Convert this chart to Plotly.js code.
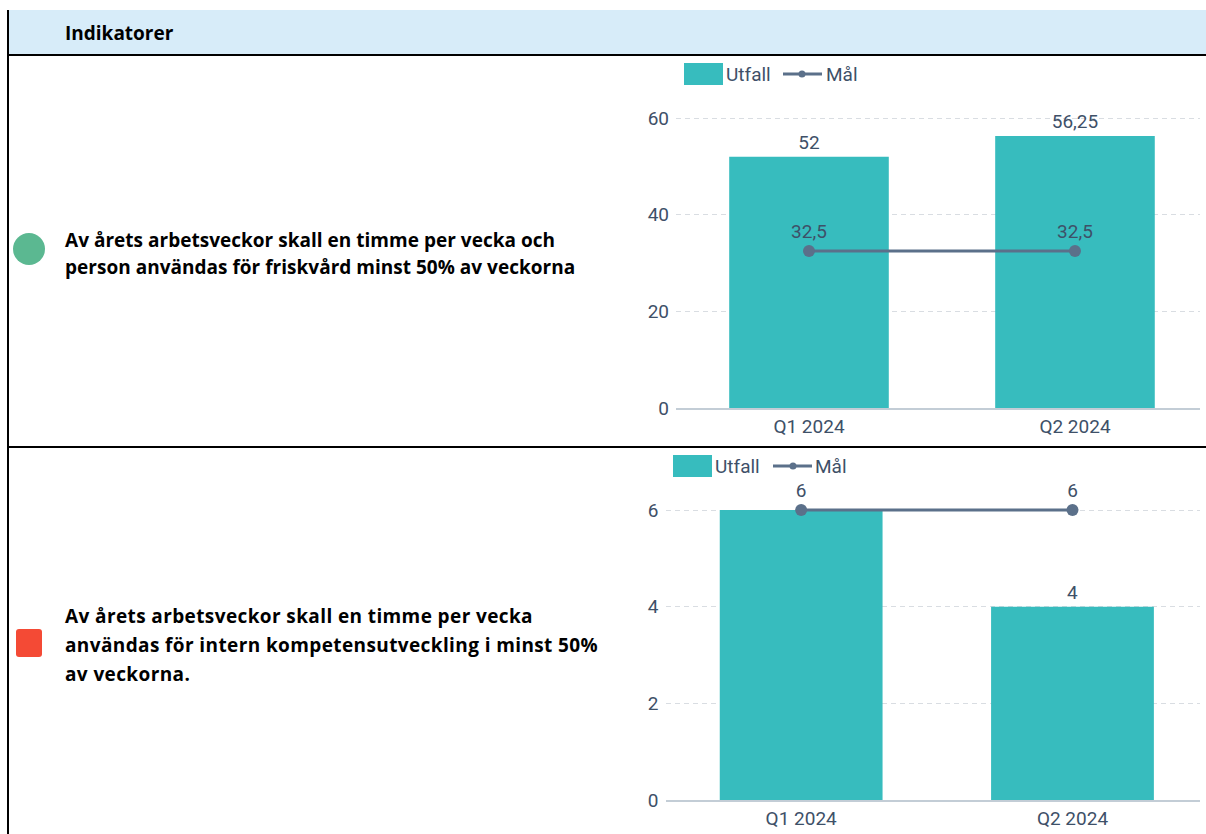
<!DOCTYPE html>
<html>
<head>
<meta charset="utf-8">
<script src="https://cdn.plot.ly/plotly-3.0.1.min.js"></script>
<style>
  body { margin: 0; background: #fff; }
  #page { position: relative; width: 1206px; height: 834px; overflow: hidden; }
  #plot { position: absolute; left: 0; top: 0; width: 1206px; height: 834px; }
  .box { position: absolute; }
  .txt { position: absolute; font-family: "Open Sans", Lato, sans-serif; font-weight: 700; color: #000; white-space: nowrap; }
</style>
</head>
<body>
<div id="page">
  <div class="box" style="left:8px;top:10px;width:1198px;height:45px;background:#D7ECF9;"></div>
  <div class="box" style="left:7px;top:10px;width:2px;height:824px;background:#000;"></div>
  <div class="box" style="left:7px;top:54px;width:1199px;height:2px;background:#000;"></div>
  <div class="box" style="left:7px;top:446px;width:1199px;height:2px;background:#000;"></div>
  <div class="txt" style="left:65px;top:21px;font-size:19px;line-height:24px;">Indikatorer</div>

  <div class="box" style="left:13px;top:233px;width:32px;height:32px;border-radius:50%;background:#5BB891;"></div>
  <div class="txt fit" data-w="510" style="left:65px;top:227px;font-size:19px;line-height:27px;">Av årets arbetsveckor skall en timme per vecka och<br>person användas för friskvård minst 50% av veckorna</div>

  <div class="box" style="left:16px;top:629px;width:26px;height:28px;border-radius:3px;background:#F44A35;"></div>
  <div class="txt fit" data-w="533" style="left:65px;top:602px;font-size:19px;line-height:29px;">Av årets arbetsveckor skall en timme per vecka<br>användas för intern kompetensutveckling i minst 50%<br>av veckorna.</div>

  <div id="plot"></div>
</div>
<script>
// data
var categories = ["Q1 2024", "Q2 2024"];
var utfall1 = [52, 56.25];
var mal1 = [32.5, 32.5];
var utfall2 = [6, 4];
var mal2 = [6, 6];
var yTicks1 = [0, 20, 40, 60];
var yTicks2 = [0, 2, 4, 6];

// stretch the indicator text a little so the lines are as wide as in the original
document.querySelectorAll(".fit").forEach(function (el) {
    var target = +el.dataset.w;
    var w = el.getBoundingClientRect().width;
    var longest = 0;
    el.innerHTML.split("<br>").forEach(function (s) { longest = Math.max(longest, s.length); });
    if (w < target) el.style.letterSpacing = ((target - w) / longest).toFixed(2) + "px";
});

var W = 1206, H = 834;
function px(x) { return x / W; }
function py(y) { return 1 - y / H; }
function fmt(v) { return String(v).replace(".", ","); }

var barColor = "#37BCBE";
var lineColor = "#5B708A";
var textColor = "#3E5068";
var tickFont = {family: "Roboto", size: 19, color: textColor};

function barText(u, m) {
    // the chart hides a bar label that collides with the goal label
    return u.map(function (v, i) { return v === m[i] ? "" : fmt(v); });
}

var data = [
    {x: categories, y: utfall1, type: "bar", xaxis: "x", yaxis: "y",
     marker: {color: barColor}, text: barText(utfall1, mal1), textposition: "outside",
     textfont: tickFont, cliponaxis: false},
    {x: categories, y: mal1, type: "scatter", mode: "lines+markers+text", xaxis: "x", yaxis: "y",
     line: {color: lineColor, width: 3}, marker: {color: lineColor, size: 12},
     text: mal1.map(fmt), textposition: "top center", textfont: tickFont, cliponaxis: false},
    {x: categories, y: utfall2, type: "bar", xaxis: "x2", yaxis: "y2",
     marker: {color: barColor}, text: barText(utfall2, mal2), textposition: "outside",
     textfont: tickFont, cliponaxis: false},
    {x: categories, y: mal2, type: "scatter", mode: "lines+markers+text", xaxis: "x2", yaxis: "y2",
     line: {color: lineColor, width: 3}, marker: {color: lineColor, size: 12},
     text: mal2.map(fmt), textposition: "top center", textfont: tickFont, cliponaxis: false}
];

function xAxis(left, anchor) {
    return {domain: [px(left), px(1200)], range: [-0.5, 1.47], type: "category", anchor: anchor,
            showline: true, linecolor: "#C3CDD6", linewidth: 2, showgrid: false, ticks: "",
            tickfont: tickFont, fixedrange: true};
}
function yAxis(bottom, top, range, ticks, anchor) {
    return {domain: [py(bottom), py(top)], range: range, tickvals: ticks, anchor: anchor,
            gridcolor: "#D9DDE2", griddash: "5px,4px", gridwidth: 1, zeroline: false,
            showline: false, ticks: "", ticklabelstandoff: 6, tickfont: tickFont, fixedrange: true};
}

// legend drawn by hand to get the wide swatches
function legend(sx, sy, textX, lx, dotX, malX) {
    var shapes = [
        {type: "rect", xref: "paper", yref: "paper", x0: px(sx), x1: px(sx + 39), y0: py(sy), y1: py(sy + 22),
         fillcolor: barColor, line: {width: 0}},
        {type: "line", xref: "paper", yref: "paper", x0: px(lx), x1: px(lx + 39), y0: py(sy + 11), y1: py(sy + 11),
         line: {color: lineColor, width: 3}},
        {type: "circle", xref: "paper", yref: "paper", x0: px(dotX - 3.5), x1: px(dotX + 3.5),
         y0: py(sy + 7.5), y1: py(sy + 14.5), fillcolor: lineColor, line: {width: 0}}
    ];
    var ann = [
        {text: "Utfall", xref: "paper", yref: "paper", x: px(textX), y: py(sy + 11), xanchor: "left",
         yanchor: "middle", showarrow: false, font: tickFont},
        {text: "Mål", xref: "paper", yref: "paper", x: px(malX), y: py(sy + 11), xanchor: "left",
         yanchor: "middle", showarrow: false, font: tickFont}
    ];
    return {shapes: shapes, annotations: ann};
}
var leg1 = legend(684, 63, 724, 783, 802, 824);
var leg2 = legend(673, 455, 713, 773, 793, 813);

var layout = {
    width: W, height: H,
    margin: {l: 0, r: 0, t: 0, b: 0},
    paper_bgcolor: "rgba(0,0,0,0)",
    plot_bgcolor: "rgba(0,0,0,0)",
    showlegend: false,
    bargap: 0.4,
    separators: ", ",
    font: {family: "Roboto", color: textColor},
    xaxis: xAxis(676, "y"),
    yaxis: yAxis(408, 408 - 62 * 290 / 60, [0, 62], yTicks1, "x"),
    xaxis2: xAxis(665.5, "y2"),
    yaxis2: yAxis(800, 800 - 6.5 * 290 / 6, [0, 6.5], yTicks2, "x2"),
    shapes: leg1.shapes.concat(leg2.shapes),
    annotations: leg1.annotations.concat(leg2.annotations)
};

Plotly.newPlot("plot", data, layout, {displayModeBar: false, staticPlot: true});
</script>
</body>
</html>
